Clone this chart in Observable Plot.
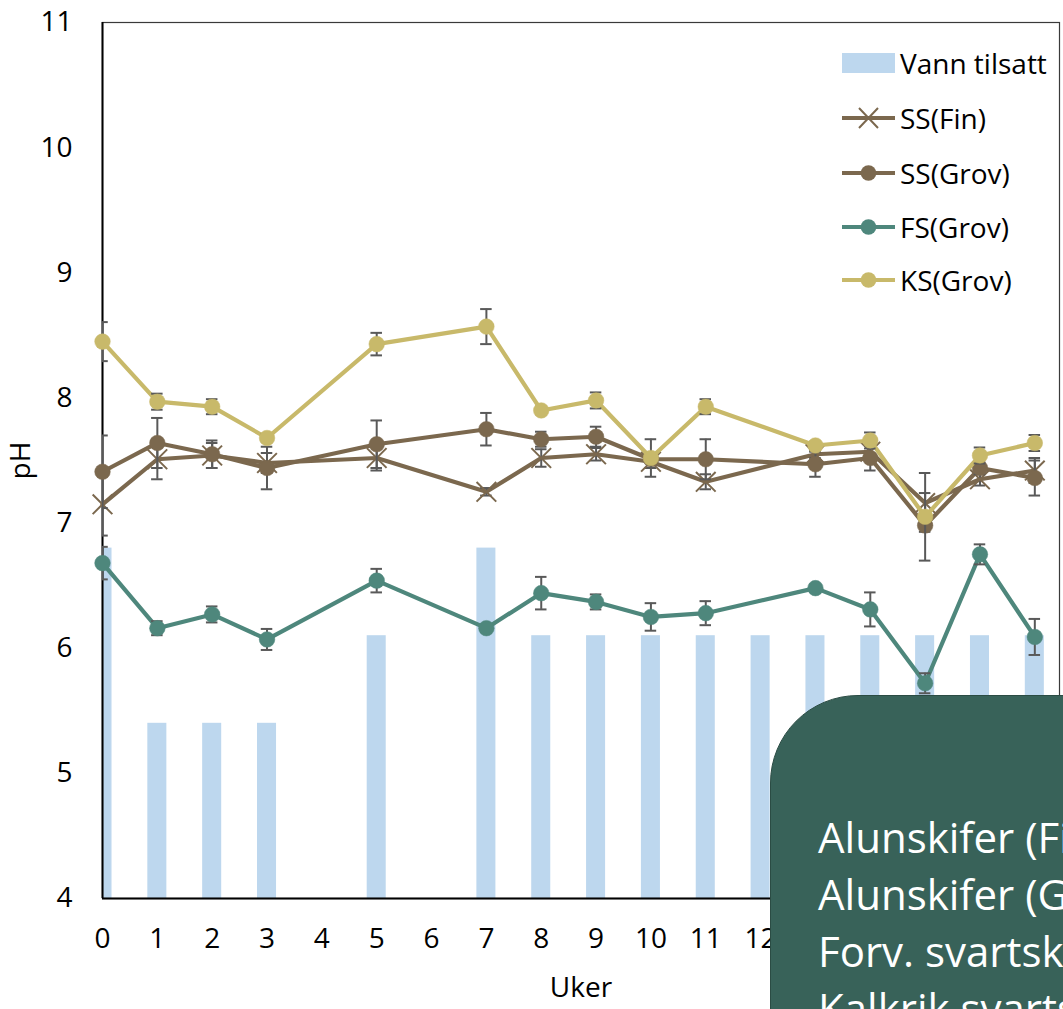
<!DOCTYPE html>
<html>
<head>
<meta charset="utf-8">
<script src="https://cdn.jsdelivr.net/npm/d3@7"></script>
<script src="https://cdn.jsdelivr.net/npm/@observablehq/plot@0.6"></script>
<style>
  html, body { margin: 0; padding: 0; background: #fff; overflow: hidden; }
  #wrap { position: relative; width: 1063px; height: 1009px; overflow: hidden; font-family: "Open Sans", sans-serif; }
  #chart { position: absolute; left: 0; top: 0; }
  .leg { position: absolute; left: 842px; height: 40px; display: flex; align-items: center; font-size: 28px; color: #000; white-space: nowrap; }
  .leg svg { margin-right: 5px; }
  #box { position: absolute; left: 770px; top: 695px; width: 420px; height: 420px; border-radius: 88px; background: #386259; border: 1.5px solid #2b4c44; box-sizing: border-box; color: #fff; font-size: 42px; line-height: 57px; padding: 112px 0 0 47px; white-space: nowrap; }
</style>
</head>
<body>
<div id="wrap">
  <div id="chart"></div>
  <div id="legend"></div>
  <div id="box">Alunskifer (Fin)<br>Alunskifer (Grov)<br>Forv. svartskifer<br>Kalkrik svartskifer</div>
</div>
<script>
// ---- data ----
const weeks = [0, 1, 2, 3, 5, 7, 8, 9, 10, 11, 13, 14, 15, 16, 17];

const ssFin     = [7.15, 7.51, 7.54, 7.48, 7.52, 7.25, 7.52, 7.55, 7.49, 7.33, 7.55, 7.57, 7.16, 7.35, 7.42];
const ssFinErr  = [0.25, 0.16, 0.10, 0.08, 0.10, 0.03, 0.07, 0.05, 0.05, 0.06, 0.03, 0.05, 0.08, 0.05, 0.10];

const ssGrov    = [7.41, 7.64, 7.55, 7.44, 7.63, 7.75, 7.67, 7.69, 7.51, 7.51, 7.47, 7.52, 6.98, 7.44, 7.36];
const ssGrovErr = [0.29, 0.20, 0.11, 0.17, 0.19, 0.13, 0.06, 0.08, 0.03, 0.16, 0.10, 0.10, 0.05, 0.05, 0.14];

const fsGrov    = [6.68, 6.16, 6.27, 6.07, 6.54, 6.16, 6.44, 6.37, 6.25, 6.28, 6.48, 6.31, 5.72, 6.75, 6.09];
const fsGrovErr = [0.13, 0.056, 0.064, 0.084, 0.094, 0.03, 0.13, 0.06, 0.11, 0.096, 0.03, 0.136, 0.08, 0.08, 0.144];

const ksGrov    = [8.45, 7.97, 7.93, 7.68, 8.43, 8.57, 7.90, 7.98, 7.52, 7.93, 7.62, 7.66, 7.05, 7.54, 7.64];
const ksGrovErr = [0.156, 0.064, 0.06, 0.03, 0.09, 0.14, 0.03, 0.064, 0.15, 0.06, 0.03, 0.064, 0.35, 0.064, 0.064];

// water added (bars), read as heights on the pH axis
const barWeeks  = [0, 1, 2, 3, 5, 7, 8, 9, 10, 11, 12, 13, 14, 15, 16, 17];
const barValues = [6.8, 5.4, 5.4, 5.4, 6.1, 6.8, 6.1, 6.1, 6.1, 6.1, 6.1, 6.1, 6.1, 6.1, 6.1, 6.1];

// tick labels visible in the reference (13+ are hidden behind the text box)
const xTicks = [0, 1, 2, 3, 4, 5, 6, 7, 8, 9, 10, 11, 12];
const yTicks = [4, 5, 6, 7, 8, 9, 10, 11];

// ---- styling ----
const C_SS = "#7b684e", C_FS = "#4e877c", C_KS = "#c8b96a", C_BAR = "#bdd7ee", C_ERR = "#595959";
const LW = 4.2, R = 7.8;

const series = [
  {name: "SS(Fin)",  values: ssFin,  err: ssFinErr,  color: C_SS, symbol: "times"},
  {name: "SS(Grov)", values: ssGrov, err: ssGrovErr, color: C_SS, symbol: "circle"},
  {name: "FS(Grov)", values: fsGrov, err: fsGrovErr, color: C_FS, symbol: "circle"},
  {name: "KS(Grov)", values: ksGrov, err: ksGrovErr, color: C_KS, symbol: "circle"}
];

const bars = barWeeks.map((w, i) => ({week: w, v: barValues[i]}));
const BW = 0.1735; // half bar width in week units
const CAP = 0.105;

const marks = [
  Plot.rectY(bars, {x1: d => d.week - BW, x2: d => d.week + BW, y1: 4, y2: "v", fill: C_BAR, clip: true}),
  Plot.frame({stroke: "#3a3a3a", strokeWidth: 1.2}),
  Plot.ruleX([0], {stroke: "#000", strokeWidth: 2}),
  Plot.ruleY([4], {stroke: "#000", strokeWidth: 2})
];

for (const s of series) {
  const rows = weeks.map((w, i) => ({week: w, ph: s.values[i], err: s.err[i]}));
  marks.push(
    Plot.line(rows, {x: "week", y: "ph", stroke: s.color, strokeWidth: LW}),
    Plot.ruleX(rows, {x: "week", y1: d => d.ph - d.err, y2: d => d.ph + d.err, stroke: C_ERR, strokeWidth: 2, clip: true}),
    Plot.ruleY(rows, {y: d => d.ph - d.err, x1: d => d.week - CAP, x2: d => d.week + CAP, stroke: C_ERR, strokeWidth: 2, clip: true}),
    Plot.ruleY(rows, {y: d => d.ph + d.err, x1: d => d.week - CAP, x2: d => d.week + CAP, stroke: C_ERR, strokeWidth: 2, clip: true}),
    s.symbol === "times"
      ? Plot.dot(rows, {x: "week", y: "ph", symbol: "times", r: 9, stroke: s.color, strokeWidth: 2})
      : Plot.dot(rows, {x: "week", y: "ph", symbol: "circle", r: R, fill: s.color, stroke: s.color, strokeWidth: 0.5})
  );
}

marks.push(
  Plot.axisX({ticks: xTicks, tickSize: 0, tickPadding: 30, tickFormat: d => String(d),
              label: "Uker", labelAnchor: "center", labelArrow: "none", labelOffset: 98}),
  Plot.axisY({ticks: yTicks, tickSize: 0, tickPadding: 30, tickFormat: d => String(d),
              label: "pH", labelAnchor: "center", labelArrow: "none", labelOffset: 92})
);

const chart = Plot.plot({
  width: 1063,
  height: 1009,
  marginLeft: 102,
  marginRight: 4,
  marginTop: 22,
  marginBottom: 111,
  x: {domain: [0, 17.45]},
  y: {domain: [4, 11]},
  style: {fontFamily: "Open Sans", fontSize: "28px", color: "#000", background: "#fff", overflow: "visible"},
  marks
});
document.getElementById("chart").appendChild(chart);

// ---- legend (HTML, inside plot area) ----
const legend = document.getElementById("legend");
const rowsY = [63, 118, 173, 227, 280];
const items = [{name: "Vann tilsatt", type: "bar"}, ...series.map(s => ({name: s.name, type: s.symbol, color: s.color}))];
items.forEach((it, i) => {
  const div = document.createElement("div");
  div.className = "leg";
  div.style.top = (rowsY[i] - 20) + "px";
  let sw;
  if (it.type === "bar") {
    sw = `<svg width="53" height="40"><rect x="0" y="10" width="53" height="20" fill="${C_BAR}"/></svg>`;
  } else if (it.type === "times") {
    sw = `<svg width="53" height="40"><line x1="0" y1="20" x2="53" y2="20" stroke="${it.color}" stroke-width="${LW}"/>
          <path d="M17,10L36,30M17,30L36,10" stroke="${it.color}" stroke-width="2"/></svg>`;
  } else {
    sw = `<svg width="53" height="40"><line x1="0" y1="20" x2="53" y2="20" stroke="${it.color}" stroke-width="${LW}"/>
          <circle cx="26.5" cy="20" r="${R}" fill="${it.color}"/></svg>`;
  }
  div.innerHTML = sw + `<span>${it.name}</span>`;
  legend.appendChild(div);
});
</script>
</body>
</html>
